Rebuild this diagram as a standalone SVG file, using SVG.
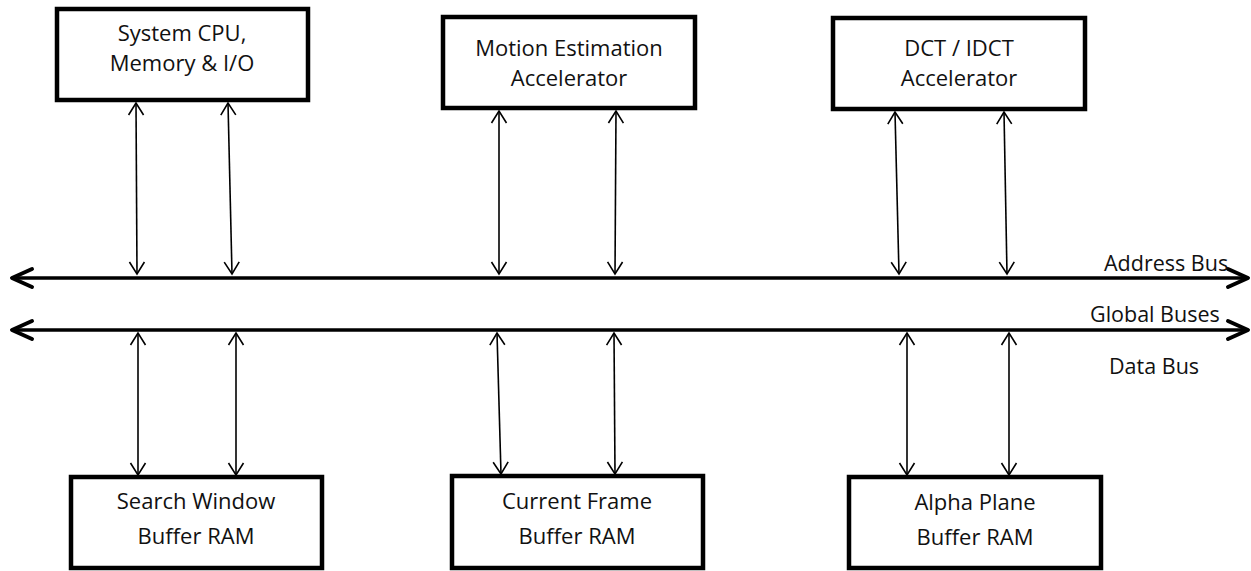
<svg xmlns="http://www.w3.org/2000/svg" width="1251" height="571" viewBox="0 0 1251 571">
<defs>
<style>
.box{fill:#fff;stroke:#000;stroke-width:4.5}
.t{font-family:"Open Sans","Liberation Sans",sans-serif;font-size:22px;fill:#111;text-anchor:middle}
.lbl{font-family:"Open Sans","Liberation Sans",sans-serif;font-size:21.5px;fill:#111}
.bus{stroke:#000;stroke-width:3.5;fill:none}
.ah{stroke:#000;stroke-width:4;fill:none;stroke-linecap:round;stroke-linejoin:round}
.c{stroke:#000;stroke-width:1.6;fill:none}
</style>
<marker id="th" viewBox="-14 -9 16 18" markerWidth="16" markerHeight="18" refX="0" refY="0" orient="auto-start-reverse" markerUnits="userSpaceOnUse">
<path d="M-12,-7.5 L0,0 L-12,7.5" fill="none" stroke="#000" stroke-width="1.6"/>
</marker>
</defs>
<rect width="1251" height="571" fill="#fff"/>
<g id="connectors">
<g id="buses">
<line class="bus" x1="12" y1="278" x2="1246" y2="278"/>
<path class="ah" d="M32,269 L12,278 L32,287"/>
<path class="ah" d="M1228,269 L1248,278 L1228,287"/>
<line class="bus" x1="12" y1="330" x2="1246" y2="330"/>
<path class="ah" d="M32,321 L12,330 L32,339"/>
<path class="ah" d="M1228,321 L1248,330 L1228,339"/>
</g>
<line class="c" x1="136" y1="103" x2="137" y2="274" marker-start="url(#th)" marker-end="url(#th)"/>
<line class="c" x1="228" y1="103" x2="232" y2="274" marker-start="url(#th)" marker-end="url(#th)"/>
<line class="c" x1="499" y1="111" x2="499" y2="274" marker-start="url(#th)" marker-end="url(#th)"/>
<line class="c" x1="616" y1="111" x2="615" y2="274" marker-start="url(#th)" marker-end="url(#th)"/>
<line class="c" x1="895" y1="112" x2="899" y2="274" marker-start="url(#th)" marker-end="url(#th)"/>
<line class="c" x1="1004" y1="112" x2="1007" y2="274" marker-start="url(#th)" marker-end="url(#th)"/>
<line class="c" x1="138" y1="333" x2="138" y2="475" marker-start="url(#th)" marker-end="url(#th)"/>
<line class="c" x1="236" y1="333" x2="236" y2="475" marker-start="url(#th)" marker-end="url(#th)"/>
<line class="c" x1="497" y1="333" x2="501" y2="474" marker-start="url(#th)" marker-end="url(#th)"/>
<line class="c" x1="614" y1="333" x2="615" y2="474" marker-start="url(#th)" marker-end="url(#th)"/>
<line class="c" x1="907" y1="333" x2="907" y2="475" marker-start="url(#th)" marker-end="url(#th)"/>
<line class="c" x1="1009" y1="333" x2="1009" y2="475" marker-start="url(#th)" marker-end="url(#th)"/>
</g>
<g id="labels">
<text class="lbl" x="1104" y="271">Address Bus</text>
<text class="lbl" x="1090" y="322">Global Buses</text>
<text class="lbl" x="1109" y="374">Data Bus</text>
</g>
<g id="cpu">
<rect class="box" x="57" y="9" width="251" height="91"/>
<text class="t" x="182" y="41">System CPU,</text>
<text class="t" x="182" y="71">Memory &amp; I/O</text>
</g>
<g id="me">
<rect class="box" x="443" y="17" width="252" height="91"/>
<text class="t" x="569" y="56">Motion Estimation</text>
<text class="t" x="569" y="86">Accelerator</text>
</g>
<g id="dct">
<rect class="box" x="833" y="18" width="252" height="91"/>
<text class="t" x="959" y="56">DCT / IDCT</text>
<text class="t" x="959" y="86">Accelerator</text>
</g>
<g id="sw">
<rect class="box" x="71" y="477" width="251" height="91"/>
<text class="t" x="196" y="509">Search Window</text>
<text class="t" x="196" y="544">Buffer RAM</text>
</g>
<g id="cf">
<rect class="box" x="452" y="476" width="251" height="92"/>
<text class="t" x="577" y="509">Current Frame</text>
<text class="t" x="577" y="544">Buffer RAM</text>
</g>
<g id="ap">
<rect class="box" x="849" y="477" width="252" height="91"/>
<text class="t" x="975" y="510">Alpha Plane</text>
<text class="t" x="975" y="545">Buffer RAM</text>
</g>
</svg>
